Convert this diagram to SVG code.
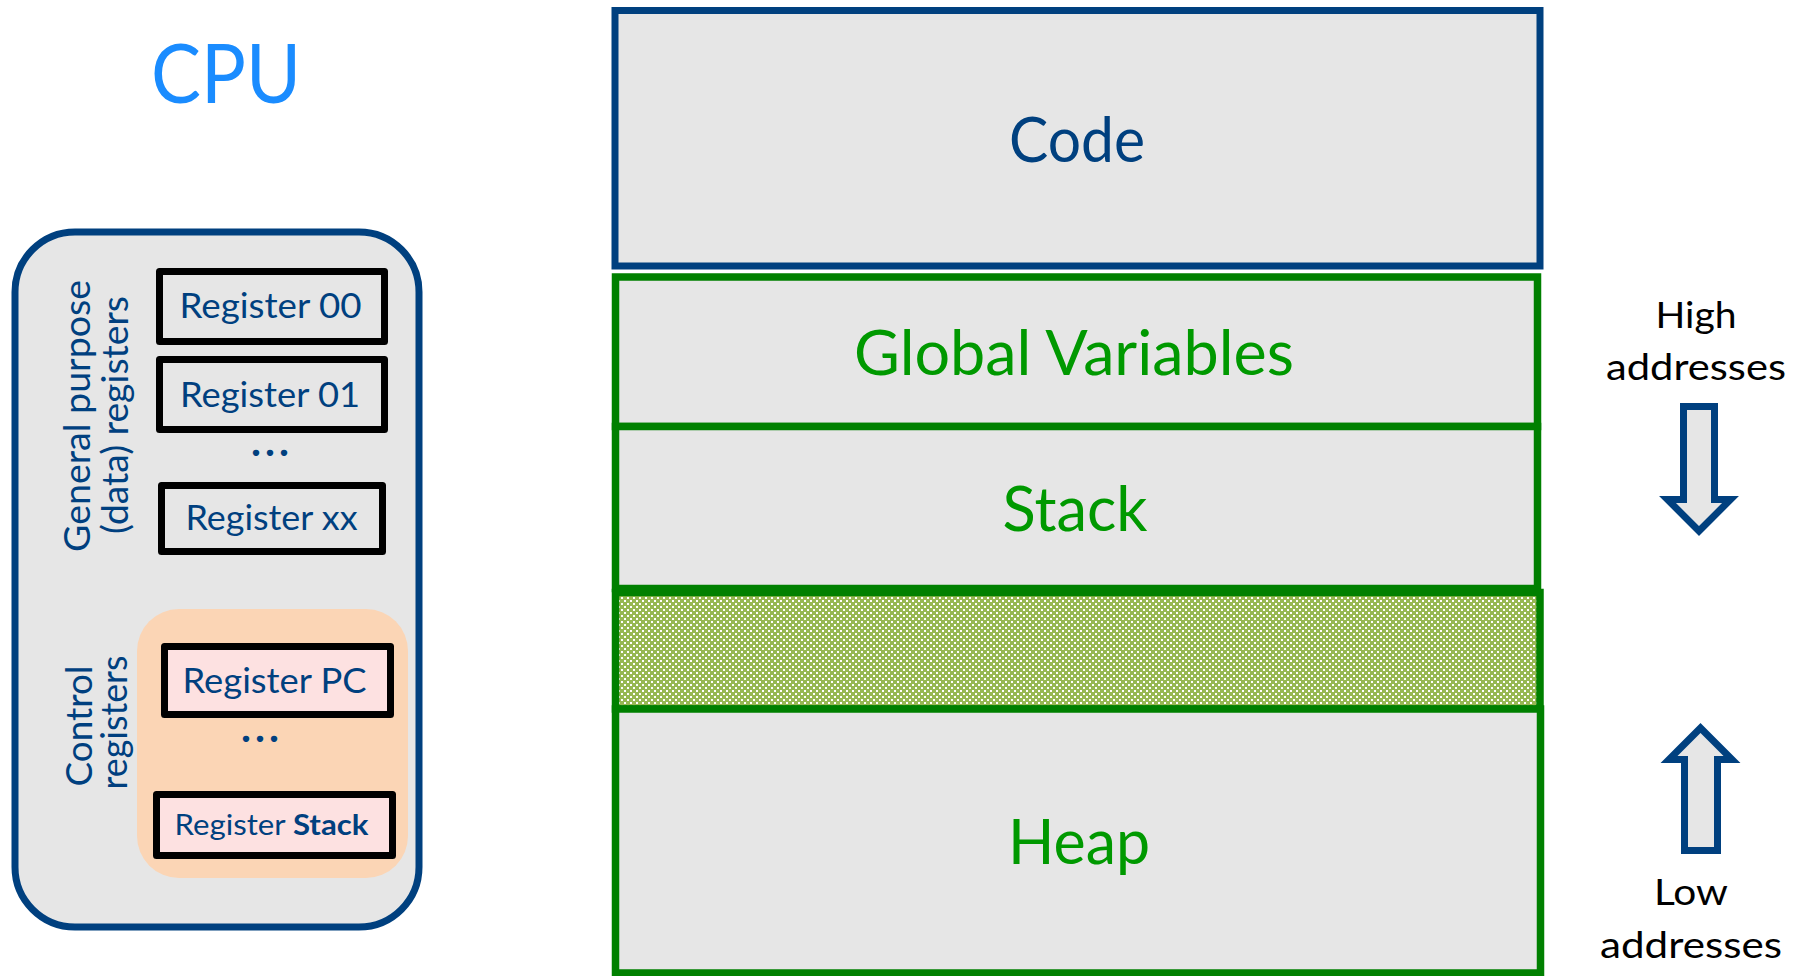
<svg xmlns="http://www.w3.org/2000/svg" width="1806" height="976" viewBox="0 0 1806 976">
  <defs>
    <pattern id="checker" x="0" y="0" width="6" height="6" patternUnits="userSpaceOnUse">
      <rect width="6" height="6" fill="#97B853"/>
      <rect x="0" y="0" width="2" height="2" fill="#FFFFFF"/>
      <rect x="3" y="3" width="2" height="2" fill="#FFFFFF"/>
    </pattern>
  </defs>
  <style>
    .lbl { font-family: Lato, "Open Sans", "Liberation Sans", sans-serif; }
    .navy { fill: #00407F; }
    .reg { stroke: #000000; stroke-width: 7; stroke-linejoin: round; }
    .grey { fill: #E6E6E6; }
    .pink { fill: #FDE1E1; }
    .mem-blue { fill: #E6E6E6; stroke: #00407F; stroke-width: 7; }
    .mem-green { fill: #E6E6E6; stroke: #008000; stroke-width: 7.5; }
    .green-txt { fill: #009900; }
    .arrow { fill: #E6E6E6; stroke: #00407F; stroke-width: 7; stroke-linejoin: miter; }
    .addr { font-family: Lato, "Open Sans", "Liberation Sans", sans-serif; font-size: 37px; fill: #000000; }
    .dots { font-family: Lato, "Open Sans", "Liberation Sans", sans-serif; font-size: 42px; font-weight: bold; fill: #00407F; }
  </style>

  <rect width="1806" height="976" fill="#FFFFFF"/>

  <!-- CPU title -->
  <g id="cpu-title">
    <text class="lbl" x="226" y="103" font-size="81" fill="#1A8CFF" text-anchor="middle" textLength="150" lengthAdjust="spacingAndGlyphs">CPU</text>
  </g>

  <!-- CPU box -->
  <g id="cpu">
    <rect x="15" y="232" width="404" height="695" rx="60" ry="60" fill="#E6E6E6" stroke="#00407F" stroke-width="7"/>
  </g>

  <g id="gp-label">
    <text class="lbl navy" font-size="36" text-anchor="middle" transform="translate(90,416) rotate(-90)" textLength="272" lengthAdjust="spacingAndGlyphs">General purpose</text>
    <text class="lbl navy" font-size="36" text-anchor="middle" transform="translate(128,415) rotate(-90)" textLength="238" lengthAdjust="spacingAndGlyphs">(data) registers</text>
  </g>

  <g id="reg00">
    <rect class="reg grey" x="159.5" y="271.5" width="225" height="70"/>
    <text class="lbl navy" x="270.5" y="318" font-size="35" text-anchor="middle" textLength="182" lengthAdjust="spacingAndGlyphs">Register 00</text>
  </g>
  <g id="reg01">
    <rect class="reg grey" x="159.5" y="359.5" width="225" height="70"/>
    <text class="lbl navy" x="270" y="407" font-size="35" text-anchor="middle" textLength="180" lengthAdjust="spacingAndGlyphs">Register 01</text>
  </g>
  <g id="gp-dots">
    <text class="dots" x="270" y="456" text-anchor="middle" textLength="38" lengthAdjust="spacing">...</text>
  </g>
  <g id="regxx">
    <rect class="reg grey" x="161.5" y="485.5" width="221" height="66"/>
    <text class="lbl navy" x="271.5" y="530" font-size="35" text-anchor="middle" textLength="172" lengthAdjust="spacingAndGlyphs">Register xx</text>
  </g>

  <!-- Control registers -->
  <g id="control-group">
    <rect x="137" y="609" width="271" height="269" rx="42" ry="42" fill="#FBD5B5"/>
  </g>
  <g id="ctrl-label">
    <text class="lbl navy" font-size="36" text-anchor="middle" transform="translate(92,726) rotate(-90)" textLength="121" lengthAdjust="spacingAndGlyphs">Control</text>
    <text class="lbl navy" font-size="36" text-anchor="middle" transform="translate(127,722.5) rotate(-90)" textLength="134" lengthAdjust="spacingAndGlyphs">registers</text>
  </g>
  <g id="regpc">
    <rect class="reg pink" x="164.5" y="646.5" width="226" height="68"/>
    <text class="lbl navy" x="274.5" y="693" font-size="35" text-anchor="middle" textLength="184" lengthAdjust="spacingAndGlyphs">Register PC</text>
  </g>
  <g id="ctrl-dots">
    <text class="dots" x="260" y="742" text-anchor="middle" textLength="38" lengthAdjust="spacing">...</text>
  </g>
  <g id="regstack">
    <rect class="reg pink" x="156.5" y="794.5" width="236" height="61"/>
    <text class="lbl navy" x="271.5" y="835" font-size="28" text-anchor="middle" textLength="194" lengthAdjust="spacingAndGlyphs">Register <tspan font-weight="bold">Stack</tspan></text>
  </g>

  <!-- Memory layout -->
  <g id="code">
    <rect class="mem-blue" x="615" y="10.5" width="925" height="255.5"/>
    <text class="lbl" x="1077" y="162" font-size="61" fill="#00407F" text-anchor="middle" textLength="136" lengthAdjust="spacingAndGlyphs">Code</text>
  </g>
  <g id="globals">
    <rect class="mem-green" x="615.5" y="277" width="922" height="149.5"/>
    <text class="lbl green-txt" x="1074" y="375" font-size="61" text-anchor="middle" textLength="440" lengthAdjust="spacingAndGlyphs">Global Variables</text>
  </g>
  <g id="stack">
    <rect class="mem-green" x="615.5" y="426.5" width="922" height="162"/>
    <text class="lbl green-txt" x="1075" y="531" font-size="61" text-anchor="middle" textLength="145" lengthAdjust="spacingAndGlyphs">Stack</text>
  </g>
  <g id="free">
    <rect x="615.5" y="592.5" width="924.5" height="116.5" fill="url(#checker)" stroke="#008000" stroke-width="7.5"/>
  </g>
  <g id="heap">
    <rect class="mem-green" x="615.5" y="709" width="925" height="264"/>
    <text class="lbl green-txt" x="1079" y="864" font-size="61" text-anchor="middle" textLength="142" lengthAdjust="spacingAndGlyphs">Heap</text>
  </g>

  <!-- Address labels -->
  <g id="high-label">
    <text class="addr" x="1696" y="328" text-anchor="middle" textLength="81" lengthAdjust="spacingAndGlyphs">High</text>
    <text class="addr" x="1696" y="380" text-anchor="middle" textLength="180" lengthAdjust="spacingAndGlyphs">addresses</text>
  </g>
  <g id="low-label">
    <text class="addr" x="1691" y="905" text-anchor="middle" textLength="74" lengthAdjust="spacingAndGlyphs">Low</text>
    <text class="addr" x="1691" y="958" text-anchor="middle" textLength="182" lengthAdjust="spacingAndGlyphs">addresses</text>
  </g>

  <!-- Direction arrows -->
  <g id="connectors">
    <polygon class="arrow" points="1683.5,406.5 1714.5,406.5 1714.5,499.5 1730.5,499.5 1699,531 1667.5,499.5 1683.5,499.5"/>
    <polygon class="arrow" points="1700.5,728 1732,759.5 1717.5,759.5 1717.5,850.5 1684.5,850.5 1684.5,759.5 1669,759.5"/>
  </g>
</svg>
